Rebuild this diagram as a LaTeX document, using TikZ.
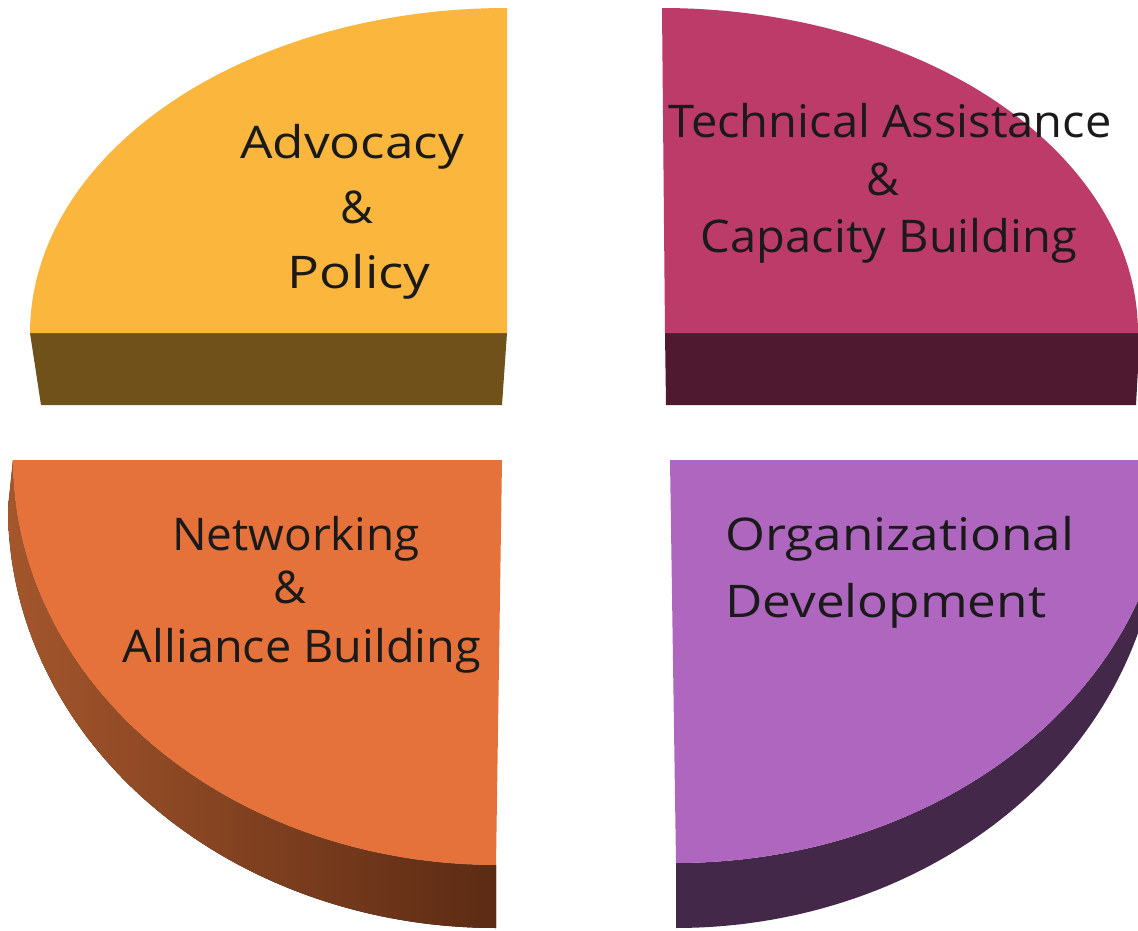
\documentclass[tikz,border=0pt]{standalone}
\usepackage{fontspec}
\setmainfont{Open Sans}
\definecolor{ytop}{HTML}{FBB63D}
\definecolor{yside}{HTML}{6F5119}
\definecolor{ptop}{HTML}{BC3B68}
\definecolor{pside}{HTML}{4F1A30}
\definecolor{otop}{HTML}{E5713B}
\definecolor{osideA}{HTML}{A4562C}
\definecolor{osideB}{HTML}{5C2B14}
\definecolor{vtop}{HTML}{AE66BE}
\definecolor{vside}{HTML}{43284A}
\definecolor{ink}{HTML}{1A1A1A}
\begin{document}
\begin{tikzpicture}[x=1pt,y=-1pt,
  lbl/.style={inner sep=0pt, text=ink, font=\fontsize{45}{56}\selectfont},
  wide/.style={xscale=#1, transform shape},
  sl/.style={samples=80, smooth}]
\fill[white] (0,0) rectangle (1138,931);
\useasboundingbox (0,0) rectangle (1138,931);
\clip (0,0) rectangle (1138,931);

% Top-left slice: Advocacy & Policy
\fill[yside] (30,333) -- (507,333) -- (502,405) -- (41,405) -- cycle;
\fill[ytop] (507,333) -- (507,8)
  -- plot[sl, domain=-90:-180] ({507+477*cos(\x)},{333+325*sin(\x)}) -- cycle;

% Top-right slice: Technical Assistance & Capacity Building
\fill[pside] (665,333) -- (1140,333) -- (1136,405) -- (666,405) -- cycle;
\fill[ptop] (665,333) -- (662,8)
  -- plot[sl, domain=-90:0] ({662+476*cos(\x)},{333+325*sin(\x)}) -- cycle;

% Bottom-left slice: Networking & Alliance Building
\fill[left color=osideA, right color=osideB]
  plot[sl, domain=180:90] ({496+483*cos(\x)},{460+405*sin(\x)})
  -- (496,928)
  -- plot[sl, domain=90:180] ({496+488*cos(\x)},{508+420*sin(\x)}) -- cycle;
\fill[otop] (502,460)
  -- plot[sl, domain=180:90] ({496+483*cos(\x)},{460+405*sin(\x)}) -- cycle;

% Bottom-right slice: Organizational Development
\fill[vside]
  plot[sl, domain=0:90] ({676+493*cos(\x)},{460+403*sin(\x)})
  -- (676,928)
  -- plot[sl, domain=90:0] ({676+484*cos(\x)},{508+420*sin(\x)}) -- cycle;
\fill[vtop] (670,460)
  -- plot[sl, domain=0:90] ({676+493*cos(\x)},{460+403*sin(\x)}) -- cycle;

% Labels
\node[lbl, wide=1.14, anchor=base] (adv1) at (352,158) {Advocacy};
\node[lbl, anchor=base] (adv2) at (357,223) {\&};
\node[lbl, wide=1.18, anchor=base] (adv3) at (359,288) {Policy};

\node[lbl, wide=1.045, anchor=base] (tec1) at (890,138) {Technical Assistance};
\node[lbl, anchor=base] (tec2) at (883,195) {\&};
\node[lbl, wide=1.045, anchor=base] (tec3) at (889,252) {Capacity Building};

\node[lbl, wide=1.02, anchor=base] (net1) at (296,550) {Networking};
\node[lbl, anchor=base] (net2) at (290,603) {\&};
\node[lbl, wide=1.04, anchor=base] (net3) at (302,662) {Alliance Building};

\node[lbl, wide=1.14, anchor=base west] (org1) at (725,550) {Organizational};
\node[lbl, wide=1.14, anchor=base west] (org2) at (725,617) {Development};
\end{tikzpicture}
\end{document}
